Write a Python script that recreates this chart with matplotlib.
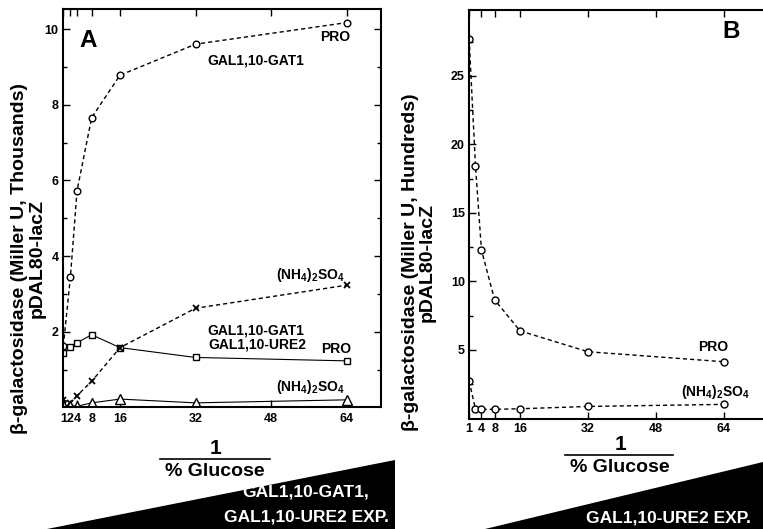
import numpy as np
import matplotlib
matplotlib.use("Agg")
import matplotlib.pyplot as plt
from matplotlib.patches import Polygon

plt.rcParams['font.family'] = ['Liberation Sans', 'DejaVu Sans']
plt.rcParams['font.weight'] = 'bold'
plt.rcParams['mathtext.fontset'] = 'custom'
plt.rcParams['mathtext.rm'] = 'Liberation Sans:bold'
plt.rcParams['mathtext.bf'] = 'Liberation Sans:bold'
plt.rcParams['mathtext.it'] = 'Liberation Sans:bold'

# ---- data (1 / % glucose) ----
inv_glucose = [1, 2, 4, 8, 16, 32, 64]

# panel A, thousands of Miller units
a_gat1_pro = [1.63, 3.45, 5.73, 7.66, 8.78, 9.60, 10.17]
a_gat1_ure2_pro = [1.43, 1.59, 1.71, 1.92, 1.58, 1.32, 1.23]
a_gat1_nh4 = [0.20, 0.12, 0.31, 0.69, 1.58, 2.62, 3.23]
a_gat1_ure2_nh4 = [0.06, 0.04, 0.03, 0.12, 0.22, 0.12, 0.20]

# panel B, hundreds of Miller units
b_ure2_pro = [27.7, 18.4, 12.3, 8.66, 6.39, 4.87, 4.14]
b_ure2_nh4 = [2.74, 0.67, 0.67, 0.67, 0.71, 0.88, 1.03]

a_xticks = [1, 2, 4, 8, 16, 32, 48, 64]
b_xticks = [1, 4, 8, 16, 32, 48, 64]

# the original axis stretches the low end (1..16) unevenly
knot_x = [0, 1, 2, 4, 8, 16, 1000]
knot_v = [2.5, 4.0, 5.5, 6.9, 10.0, 16, 1000]


def fwd(x):
    return np.interp(x, knot_x, knot_v)


def inv(v):
    return np.interp(v, knot_v, knot_x)


W, H = 763, 529
fig = plt.figure(figsize=(W / 100, H / 100), dpi=100)

dash = dict(linestyle=(0, (3, 2.2)), color='black', linewidth=1.0)
solid = dict(linestyle='-', color='black', linewidth=0.8)


def style_axes(ax):
    ax.set_xscale('function', functions=(fwd, inv))
    for s in ax.spines.values():
        s.set_linewidth(1.5)
    ax.tick_params(which='both', direction='in', top=True, right=True,
                   labelsize=9, width=1.0, pad=3)
    ax.tick_params(which='major', length=5)
    ax.tick_params(which='minor', length=3)


# -------------------------------
# Panel A
# -------------------------------
axA = fig.add_axes([62.7 / W, 1 - 407.4 / H, 318.3 / W, 398.4 / H])
style_axes(axA)
axA.plot(inv_glucose, a_gat1_pro, marker='o', ms=4.8, mfc='white', mec='black', mew=1.0, **dash)
axA.plot(inv_glucose, a_gat1_ure2_pro, marker='s', ms=5, mfc='white', mec='black', mew=1.0, **solid)
axA.plot(inv_glucose, a_gat1_nh4, marker='x', ms=4.5, mec='black', mew=1.3, **dash)
axA.plot(inv_glucose, a_gat1_ure2_nh4, marker='^', ms=6.5, mfc='white', mec='black', mew=1.0, **solid)
axA.set_xlim(0.907, 71.3)
axA.set_ylim(0, 10.53)
axA.set_xticks(a_xticks)
axA.set_xticklabels([str(t) for t in a_xticks])
axA.set_yticks([2, 4, 6, 8, 10])
axA.set_yticks([1, 3, 5, 7, 9], minor=True)
axA.set_xticks([], minor=True)
axA.tick_params(axis='x', pad=4)

axA.text(0.079, 0.922, 'A', transform=axA.transAxes, fontsize=17.5, ha='center', va='center')
tk = dict(transform=axA.transAxes, fontsize=10, ha='center', va='center')
axA.text(0.856, 0.930, 'PRO', **tk)
axA.text(0.607, 0.870, 'GAL1,10-GAT1', **tk)
axA.text(0.777, 0.333, '(NH$_4$)$_2$SO$_4$', **tk)
axA.text(0.607, 0.194, 'GAL1,10-GAT1', **tk)
axA.text(0.610, 0.157, 'GAL1,10-URE2', **tk)
axA.text(0.859, 0.146, 'PRO', **tk)
axA.text(0.777, 0.052, '(NH$_4$)$_2$SO$_4$', **tk)

# -------------------------------
# Panel B
# -------------------------------
axB = fig.add_axes([469 / W, 1 - 418.5 / H, 294 / W, 408.5 / H])
style_axes(axB)
axB.spines['right'].set_visible(False)
axB.tick_params(which='both', right=False)
axB.plot(inv_glucose, b_ure2_pro, marker='o', ms=5, mfc='white', mec='black', mew=1.0, **dash)
axB.plot(inv_glucose, b_ure2_nh4, marker='o', ms=5, mfc='white', mec='black', mew=1.0, **dash)
axB.set_xlim(0.98, 73.2)
axB.set_ylim(0, 29.8)
axB.set_xticks(b_xticks)
axB.set_xticklabels([str(t) for t in b_xticks])
axB.set_xticks([], minor=True)
axB.set_yticks([5, 10, 15, 20, 25])
axB.set_yticks([2.5, 7.5, 12.5, 17.5, 22.5, 27.5], minor=True)

axB.text(0.893, 0.947, 'B', transform=axB.transAxes, fontsize=17.5, ha='center', va='center')
tk = dict(transform=axB.transAxes, fontsize=10, ha='center', va='center')
axB.text(0.830, 0.175, 'PRO', **tk)
axB.text(0.838, 0.066, '(NH$_4$)$_2$SO$_4$', **tk)

for a in (axA, axB):
    for lab in a.get_xticklabels() + a.get_yticklabels():
        lab.set_fontweight('bold')

# -------------------------------
# y labels
# -------------------------------
fig.text(28.5 / W, 1 - 258 / H, 'β-galactosidase (Miller U, Thousands)\npDAL80-lacZ',
         rotation=90, ha='center', va='center', multialignment='center',
         fontsize=14, linespacing=1.0)
fig.text(419 / W, 1 - 262 / H, 'β-galactosidase (Miller U, Hundreds)\npDAL80-lacZ',
         rotation=90, ha='center', va='center', multialignment='center',
         fontsize=14, linespacing=1.0)

# -------------------------------
# x labels (fraction 1 / % Glucose)
# -------------------------------
for cx, y1, yl, y2, x0, x1 in [(215, 449, 459, 471, 160, 270), (620, 445, 455, 468, 565, 673)]:
    fig.text(cx / W, 1 - y1 / H, '1', ha='center', va='center', fontsize=15)
    fig.add_artist(plt.Line2D([x0 / W, x1 / W], [1 - yl / H, 1 - yl / H],
                              transform=fig.transFigure, color='black', linewidth=1.2))
    fig.text(cx / W, 1 - y2 / H, '% Glucose', ha='center', va='center', fontsize=14)

# -------------------------------
# expression wedges
# -------------------------------
wedgeA = Polygon([(47 / W, 0), (395 / W, 1 - 460 / H), (395 / W, 0)],
                 closed=True, transform=fig.transFigure, facecolor='black', edgecolor='none')
wedgeB = Polygon([(485 / W, 0), (1.0, 1 - 462 / H), (1.0, 0)],
                 closed=True, transform=fig.transFigure, facecolor='black', edgecolor='none')
fig.add_artist(wedgeA)
fig.add_artist(wedgeB)
fig.text(306 / W, 1 - 492 / H, 'GAL1,10-GAT1,', color='white', ha='center', va='center', fontsize=12.5)
fig.text(306 / W, 1 - 517 / H, 'GAL1,10-URE2 EXP.', color='white', ha='center', va='center', fontsize=12.5)
fig.text(669 / W, 1 - 518 / H, 'GAL1,10-URE2 EXP.', color='white', ha='center', va='center', fontsize=12.5)

fig.savefig('out.png', dpi=100)
